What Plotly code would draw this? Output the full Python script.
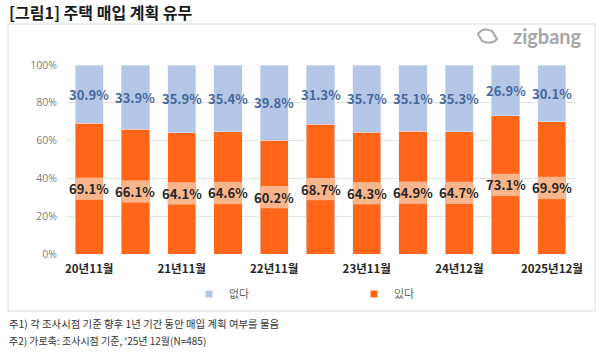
import plotly.graph_objects as go

# ---------------- data ----------------
categories = ["20년11월", "21년5월", "21년11월", "22년5월", "22년11월", "23년5월",
              "23년11월", "24년6월", "24년12월", "25년6월", "2025년12월"]
tick_labels = ["20년11월", "", "21년11월", "", "22년11월", "",
               "23년11월", "", "24년12월", "", "2025년12월"]
yes_values = [69.1, 66.1, 64.1, 64.6, 60.2, 68.7, 64.3, 64.9, 64.7, 73.1, 69.9]   # 있다
no_values = [30.9, 33.9, 35.9, 35.4, 39.8, 31.3, 35.7, 35.1, 35.3, 26.9, 30.1]    # 없다
y_ticks = [0, 20, 40, 60, 80, 100]

# ---------------- style ----------------
W, H = 600, 352
L, R, T, B = 66, 25, 65, 98
PW, PH = W - L - R, H - T - B
ORANGE = "#FF661A"
BLUE = "#B4C7E7"
PEACH = "#F9B68C"
KFONT = "Noto Sans CJK KR"


def px_x(x):
    return (x - L) / PW


def px_y(y):
    return (H - B - y) / PH


idx = list(range(len(categories)))
fig = go.Figure()

fig.add_trace(go.Bar(x=idx, y=yes_values, name="있다", marker_color=ORANGE,
                     width=0.61, showlegend=False, hoverinfo="skip"))
fig.add_trace(go.Bar(x=idx, y=no_values, name="없다", marker_color=BLUE,
                     width=0.61, showlegend=False, hoverinfo="skip"))

# legend proxies (small squares)
fig.add_trace(go.Scatter(x=[None], y=[None], mode="markers", name="없다",
                         marker=dict(symbol="square", size=7, color=BLUE)))
fig.add_trace(go.Scatter(x=[None], y=[None], mode="markers", name="있다",
                         marker=dict(symbol="square", size=7, color=ORANGE)))

# peach label bands behind the 있다 labels
shapes = []
for i, v in zip(idx, yes_values):
    shapes.append(dict(type="rect", xref="x", yref="y", x0=i - 0.305, x1=i + 0.305,
                       y0=v / 2 - 5.9, y1=v / 2 + 5.9, fillcolor=PEACH,
                       line=dict(width=0), layer="above"))

annotations = []
# value labels (annotations sit above shapes)
for i, v in zip(idx, yes_values):
    annotations.append(dict(x=i, y=v / 2, xref="x", yref="y", text=f"<b>{v:.1f}%</b>",
                            showarrow=False, xanchor="center", yanchor="middle",
                            font=dict(family=KFONT, size=13, color="#262626")))
for i, v, n in zip(idx, yes_values, no_values):
    annotations.append(dict(x=i, y=v + n / 2, xref="x", yref="y", text=f"<b>{n:.1f}%</b>",
                            showarrow=False, xanchor="center", yanchor="middle",
                            font=dict(family=KFONT, size=13, color="#46679A")))

# outer box
shapes.append(dict(type="rect", xref="paper", yref="paper",
                   x0=px_x(8), x1=px_x(595), y0=px_y(311), y1=px_y(24),
                   line=dict(color="#DADADA", width=1), fillcolor="rgba(0,0,0,0)", layer="below"))

annotations += [
    dict(text="<b>[그림1] 주택 매입 계획 유무</b>", xref="paper", yref="paper",
         x=px_x(7), y=px_y(12), xanchor="left", yanchor="middle", showarrow=False,
         font=dict(family=KFONT, size=16, color="#1A1A1A")),
    dict(text="<b>zigbang</b>", xref="paper", yref="paper", x=px_x(584), y=px_y(36),
         xanchor="right", yanchor="middle", showarrow=False,
         font=dict(family="Lato", size=20, color="#A6A6A6")),
    dict(text="주1) 각 조사시점 기준 향후 1년 기간 동안 매입 계획 여부를 물음", xref="paper", yref="paper",
         x=px_x(7), y=px_y(323), xanchor="left", yanchor="middle", showarrow=False,
         font=dict(family=KFONT, size=10.4, color="#333333")),
    dict(text="주2) 가로축: 조사시점 기준, ‘25년 12월(N=485)", xref="paper", yref="paper",
         x=px_x(7), y=px_y(340), xanchor="left", yanchor="middle", showarrow=False,
         font=dict(family=KFONT, size=10, color="#333333")),
]

# logo icon (rounded loop)
shapes.append(dict(type="path", xref="paper", yref="paper",
                   path=f"M {px_x(478)},{px_y(34)} Q {px_x(483)},{px_y(27)} {px_x(492)},{px_y(31)} "
                        f"L {px_x(497)},{px_y(39)} Q {px_x(492)},{px_y(45)} {px_x(482)},{px_y(41)} Z",
                   line=dict(color="#A6A6A6", width=2), fillcolor="rgba(0,0,0,0)"))

fig.update_layout(
    width=W, height=H, margin=dict(l=L, r=R, t=T, b=B),
    paper_bgcolor="white", plot_bgcolor="white",
    barmode="stack", bargap=0.39,
    shapes=shapes, annotations=annotations,
    showlegend=True,
    legend=dict(orientation="h", x=px_x(189), y=px_y(294), xanchor="left", yanchor="middle",
                traceorder="normal",
                entrywidth=120, entrywidthmode="pixels", itemwidth=30,
                font=dict(family=KFONT, size=11, color="#666666"), bgcolor="rgba(0,0,0,0)"),
    xaxis=dict(range=[-0.5, len(categories) - 0.5], tickvals=idx, ticktext=tick_labels,
               showgrid=False, zeroline=False, showline=False, ticks="",
               tickfont=dict(family=KFONT, size=11.5, color="#262626", weight="bold"),
               ticklabelstandoff=6),
    yaxis=dict(range=[0, 100], tickvals=y_ticks, ticktext=[f"{t}%" for t in y_ticks],
               showgrid=True, gridcolor="#E3E3E3", gridwidth=1, zeroline=False,
               showline=False, ticks="", ticklabelstandoff=8,
               tickfont=dict(family="Open Sans", size=10.5, color="#808080")),
)

fig.write_html("out.html")
